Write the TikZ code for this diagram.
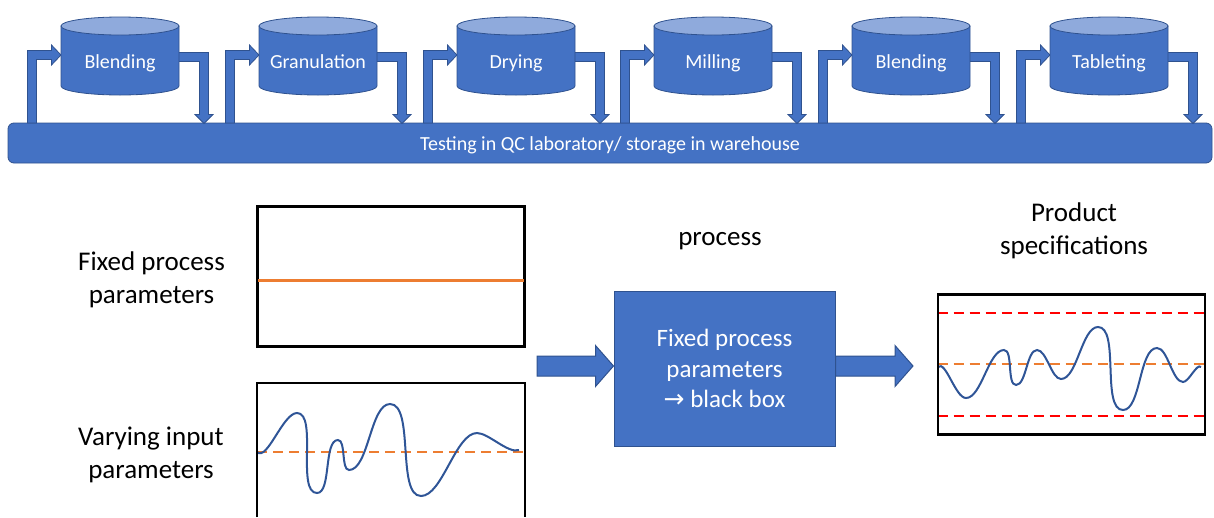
\documentclass[tikz,border=0pt]{standalone}
\usepackage{fontspec}
\setmainfont{Carlito}
\newfontfamily\symfont{DejaVu Sans}
\usetikzlibrary{calc}
\definecolor{unitblue}{HTML}{4472C4}
\definecolor{unitedge}{HTML}{2F528F}
\definecolor{unittop}{HTML}{8FAADC}
\definecolor{signalblue}{HTML}{2F5597}
\definecolor{targetorange}{HTML}{ED7D31}
\definecolor{limitred}{HTML}{FF0000}

\begin{document}
\begin{tikzpicture}[x=1pt,y=-1pt,
  flow/.style={fill=unitblue, draw=unitedge, line width=0.8pt, line join=miter},
  cylbody/.style={fill=unitblue, draw=unitedge, line width=0.8pt},
  cyltop/.style={fill=unittop, draw=unitedge, line width=0.8pt},
  cyllabel/.style={text=white, font=\fontsize{20}{24}\selectfont, anchor=base, inner sep=0pt},
  band/.style={fill=unitblue, draw=unitedge, line width=0.8pt, rounded corners=6pt,
    minimum width=1204pt, minimum height=40pt, inner sep=0pt, text=white,
    text height=16pt, text depth=2pt, font=\fontsize{20}{24}\selectfont},
  chart/.style={draw=black, line width=1.8pt, minimum width=266pt, minimum height=139pt, inner sep=0pt},
  sidelabel/.style={font=\fontsize{27}{33}\selectfont, align=center, inner sep=0pt},
  procbox/.style={fill=unitblue, draw=unitedge, line width=1pt, minimum width=221pt,
    minimum height=155pt, text=white, align=center, font=\fontsize{25}{30.5}\selectfont},
  barrow/.style={fill=unitblue, draw=unitedge, line width=1pt, line join=miter,
    to path={let \p1=(\tikztostart), \p2=(\tikztotarget) in
      (\x1,\y1+10pt) -- (\x2-18pt,\y1+10pt) -- (\x2-18pt,\y1+20.5pt) -- (\x2,\y1)
      -- (\x2-18pt,\y1-20.5pt) -- (\x2-18pt,\y1-10pt) -- (\x1,\y1-10pt) -- cycle}},
  wave/.style={draw=signalblue, line width=2pt, looseness=0.65},
  meanline/.style={draw=targetorange, line width=2pt, dash pattern=on 10pt off 6pt},
  specline/.style={draw=limitred, line width=2.2pt, dash pattern=on 10pt off 6pt}]

\useasboundingbox (0,0) rectangle (1214,517);

% ---- batch-wise production line ----
\node[band] (qc) at (610,143) {Testing in QC laboratory/ storage in warehouse};

\foreach \cx/\lab [count=\i] in {120/Blending,318/Granulation,516/Drying,713/Milling,911/Blending,1109/Tableting}{
  % material taken from the warehouse into the unit
  \draw[flow] (\cx-92.5,123) -- (\cx-92.5,50.5) -- (\cx-68.5,50.5) -- (\cx-68.5,45)
    -- (\cx-59,55) -- (\cx-68.5,65) -- (\cx-68.5,59.5) -- (\cx-83.5,59.5)
    -- (\cx-83.5,123) -- cycle;
  % material returned to the warehouse
  \draw[flow] (\cx+50,52.5) -- (\cx+88.5,52.5) -- (\cx+88.5,114.5) -- (\cx+93,114.5)
    -- (\cx+84,123.5) -- (\cx+75,114.5) -- (\cx+79.5,114.5) -- (\cx+79.5,61.5)
    -- (\cx+50,61.5) -- cycle;
  % the unit operation
  \draw[cylbody] (\cx-59,26) -- (\cx-59,86)
    arc[start angle=180, end angle=0, x radius=59, y radius=9] -- (\cx+59,26) -- cycle;
  \draw[cyltop] (\cx,26) ellipse[x radius=59, y radius=9];
  \node[cyllabel] (u\i) at (\cx,68) {\lab};
}

% ---- input side ----
\node[chart] (fixbox) at (391,276.5) {};
\draw[targetorange, line width=3pt] (fixbox.west |- 0,280) -- (fixbox.east |- 0,280);
\draw[black, line width=1.8pt] (fixbox.south west) rectangle (fixbox.north east);

\node[inner sep=0pt, minimum width=268pt, minimum height=134pt] (varbox) at (391,450) {};
\draw[meanline] (257,452) -- (525,452);
\draw[wave] (257,452) to[out=-45,in=180] (297,413) to[out=0,in=180] (317,493)
  to[out=0,in=180] (338,440) to[out=0,in=180] (349,470) to[out=0,in=180] (390,404)
  to[out=0,in=180] (421,496) to[out=0,in=180] (477,433) to[out=0,in=200] (519,450);
\draw[black, line width=1.8pt] (varbox.south west) -- (varbox.north west)
  -- (varbox.north east) -- (varbox.south east);

\node[sidelabel] (fixlabel) at (151.5,280) {Fixed process\\parameters};
\node[sidelabel] (varlabel) at (151,455) {Varying input\\parameters};

% ---- process ----
\node[font=\fontsize{27}{33}\selectfont, anchor=base, inner sep=0pt] (proctitle) at (720,245) {process};
\node[procbox] (proc) at (724.5,368.5) {Fixed process\\parameters\\{\symfont\fontsize{25}{30.5}\selectfont →} black box};

\coordinate (feed) at (537,366);
\draw[barrow] (feed) to (proc.west);
\coordinate (out) at (913,366);
\draw[barrow] (proc.east |- out) to (out);

% ---- product side ----
\node[sidelabel] (speclabel) at (1074,231) {Product\\specifications};
\node[chart] (specbox) at (1071.5,364.5) {};
\draw[specline] (specbox.west |- 0,313) -- (specbox.east |- 0,313);
\draw[specline] (specbox.west |- 0,416) -- (specbox.east |- 0,416);
\draw[meanline] (specbox.west |- 0,364) -- (specbox.east |- 0,364);
\draw[wave] (938,367) to[out=45,in=180] (966,398) to[out=0,in=180] (1004,350)
  to[out=0,in=180] (1016,385) to[out=0,in=180] (1037,350) to[out=0,in=180] (1061,379)
  to[out=0,in=180] (1098,327) to[out=0,in=180] (1123,410) to[out=0,in=180] (1157,348)
  to[out=0,in=180] (1183,382) to[out=0,in=135] (1201,367);
\draw[black, line width=1.8pt] (specbox.south west) rectangle (specbox.north east);
\end{tikzpicture}
\end{document}
